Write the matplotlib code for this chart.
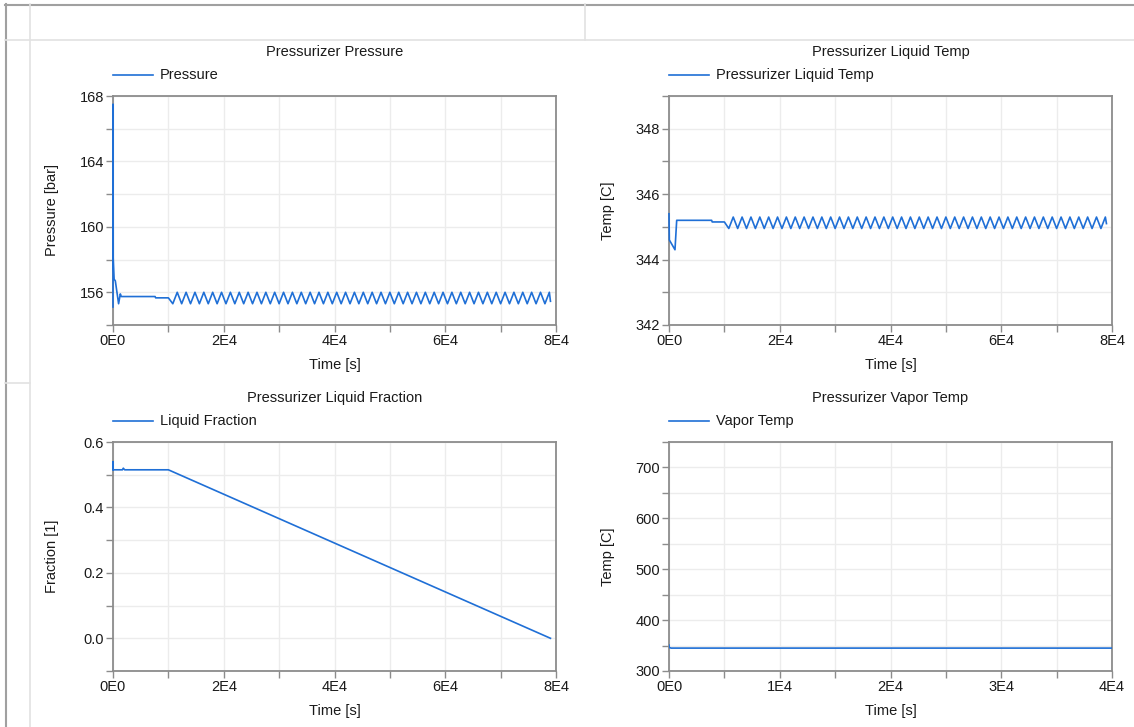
import matplotlib
matplotlib.use('Agg')
import matplotlib.pyplot as plt
from matplotlib.lines import Line2D
from matplotlib.ticker import MultipleLocator, FuncFormatter
import math

W, H = 1134, 727
plt.rcParams['font.family'] = ['Liberation Sans', 'DejaVu Sans']

# ---------------- data ----------------
# initial transients
p_t0 = [0, 10, 40, 200, 420, 1010, 1320, 1500, 7600, 7700]
p_v0 = [155.1, 167.5, 158.1, 156.8, 156.7, 155.3, 155.9, 155.74, 155.74, 155.66]

tl_t0 = [0, 60, 1080, 1390, 7700, 7800]
tl_v0 = [345.4, 344.6, 344.3, 345.2, 345.2, 345.15]

# oscillation phase (shared time points)
osc_t = [10000, 10800, 11600, 12400, 13200, 14000, 14800, 15600, 16400, 17200,
         18000, 18800, 19600, 20400, 21200, 22000, 22800, 23600, 24400, 25200,
         26000, 26800, 27600, 28400, 29200, 30000, 30800, 31600, 32400, 33200,
         34000, 34800, 35600, 36400, 37200, 38000, 38800, 39600, 40400, 41200,
         42000, 42800, 43600, 44400, 45200, 46000, 46800, 47600, 48400, 49200,
         50000, 50800, 51600, 52400, 53200, 54000, 54800, 55600, 56400, 57200,
         58000, 58800, 59600, 60400, 61200, 62000, 62800, 63600, 64400, 65200,
         66000, 66800, 67600, 68400, 69200, 70000, 70800, 71600, 72400, 73200,
         74000, 74800, 75600, 76400, 77200, 78000, 78800, 79000]

osc_p = [155.66, 155.3, 156.0, 155.3, 156.0, 155.3, 156.0, 155.3, 156.0, 155.3,
         156.0, 155.3, 156.0, 155.3, 156.0, 155.3, 156.0, 155.3, 156.0, 155.3,
         156.0, 155.3, 156.0, 155.3, 156.0, 155.3, 156.0, 155.3, 156.0, 155.3,
         156.0, 155.3, 156.0, 155.3, 156.0, 155.3, 156.0, 155.3, 156.0, 155.3,
         156.0, 155.3, 156.0, 155.3, 156.0, 155.3, 156.0, 155.3, 156.0, 155.3,
         156.0, 155.3, 156.0, 155.3, 156.0, 155.3, 156.0, 155.3, 156.0, 155.3,
         156.0, 155.3, 156.0, 155.3, 156.0, 155.3, 156.0, 155.3, 156.0, 155.3,
         156.0, 155.3, 156.0, 155.3, 156.0, 155.3, 156.0, 155.3, 156.0, 155.3,
         156.0, 155.3, 156.0, 155.3, 156.0, 155.3, 156.0, 155.45]

osc_tl = [345.15, 344.95, 345.3, 344.95, 345.3, 344.95, 345.3, 344.95, 345.3, 344.95,
          345.3, 344.95, 345.3, 344.95, 345.3, 344.95, 345.3, 344.95, 345.3, 344.95,
          345.3, 344.95, 345.3, 344.95, 345.3, 344.95, 345.3, 344.95, 345.3, 344.95,
          345.3, 344.95, 345.3, 344.95, 345.3, 344.95, 345.3, 344.95, 345.3, 344.95,
          345.3, 344.95, 345.3, 344.95, 345.3, 344.95, 345.3, 344.95, 345.3, 344.95,
          345.3, 344.95, 345.3, 344.95, 345.3, 344.95, 345.3, 344.95, 345.3, 344.95,
          345.3, 344.95, 345.3, 344.95, 345.3, 344.95, 345.3, 344.95, 345.3, 344.95,
          345.3, 344.95, 345.3, 344.95, 345.3, 344.95, 345.3, 344.95, 345.3, 344.95,
          345.3, 344.95, 345.3, 344.95, 345.3, 344.95, 345.3, 345.1]

frac_t = [0, 1, 30, 1700, 1860, 2100, 10000, 79000]
frac_v = [0.515, 0.54, 0.515, 0.515, 0.52, 0.515, 0.515, 0.0]

vap_t = [0, 30, 200, 79000]
vap_v = [351.0, 346.0, 345.0, 345.0]

titles = ["Pressurizer Pressure", "Pressurizer Liquid Temp",
          "Pressurizer Liquid Fraction", "Pressurizer Vapor Temp"]
legends = ["Pressure", "Pressurizer Liquid Temp", "Liquid Fraction", "Vapor Temp"]
ylabels = ["Pressure [bar]", "Temp [C]", "Fraction [1]", "Temp [C]"]

# --------------- figure ----------------
fig = plt.figure(figsize=(W / 100, H / 100), dpi=100)
fig.patch.set_facecolor('white')

def fx(x):
    return x / W

def fy(y):
    return 1 - y / H

def hline(y, x0, x1, c, lw):
    fig.add_artist(Line2D([fx(x0), fx(x1)], [fy(y), fy(y)], transform=fig.transFigure,
                          color=c, lw=lw))

def vline(x, y0, y1, c, lw):
    fig.add_artist(Line2D([fx(x), fx(x)], [fy(y0), fy(y1)], transform=fig.transFigure,
                          color=c, lw=lw))

# window chrome
hline(4.5, 5, W, '#a0a0a0', 1.5)
vline(5.5, 4, H, '#a0a0a0', 1.5)
hline(40, 5, W, '#e2e2e2', 1.2)
vline(30, 4, H, '#e2e2e2', 1.2)
vline(585, 4, 40, '#e2e2e2', 1.2)
hline(383, 5, 30, '#e2e2e2', 1.2)

LINE_C = '#1f6fd6'
SPINE_C = '#8c8c8c'
TXT_C = '#1a1a1a'
FS = 10.5

def sci(v, pos=None):
    if abs(v) < 1e-9:
        return '0E0'
    e = int(math.floor(math.log10(abs(v)) + 1e-9))
    m = v / 10 ** e
    return f"{m:g}E{e}"

def make_axes(l, t, r, b):
    ax = fig.add_axes([fx(l), fy(b), (r - l) / W, (b - t) / H])
    for s in ax.spines.values():
        s.set_color(SPINE_C)
        s.set_linewidth(1.3)
    ax.tick_params(which='both', direction='out', color=SPINE_C, width=1,
                   labelcolor=TXT_C, labelsize=FS, top=False, right=False)
    ax.tick_params(which='major', length=5, pad=1.5)
    ax.tick_params(which='minor', length=5)
    ax.grid(which='both', color='#ececec', lw=1)
    ax.set_axisbelow(True)
    ax.xaxis.set_major_formatter(FuncFormatter(sci))
    return ax

boxes = [(113, 96, 556, 325), (669, 96, 1112, 325),
         (113, 442, 556, 671), (669, 442, 1112, 671)]
title_y = [52, 52, 398, 398]
leg_y = [75, 75, 421, 421]
xl_y = [365, 365, 711, 711]
yl_x = [52, 608, 52, 608]

axes = [make_axes(*b) for b in boxes]

# Pressure
a = axes[0]
a.plot(p_t0 + osc_t, p_v0 + osc_p, color=LINE_C, lw=1.2, zorder=3, clip_on=False)
a.set_xlim(0, 80000)
a.set_ylim(154, 168)
a.xaxis.set_major_locator(MultipleLocator(20000))
a.xaxis.set_minor_locator(MultipleLocator(10000))
a.yaxis.set_major_locator(MultipleLocator(4))
a.yaxis.set_minor_locator(MultipleLocator(2))
a.yaxis.set_major_formatter(FuncFormatter(lambda v, p: f"{v:.0f}"))

# Liquid temp
a = axes[1]
a.plot(tl_t0 + osc_t, tl_v0 + osc_tl, color=LINE_C, lw=1.2, zorder=3, clip_on=False)
a.set_xlim(0, 80000)
a.set_ylim(342, 349)
a.xaxis.set_major_locator(MultipleLocator(20000))
a.xaxis.set_minor_locator(MultipleLocator(10000))
a.yaxis.set_major_locator(MultipleLocator(2))
a.yaxis.set_minor_locator(MultipleLocator(1))
a.yaxis.set_major_formatter(FuncFormatter(lambda v, p: f"{v:.0f}"))

# Liquid fraction
a = axes[2]
a.plot(frac_t, frac_v, color=LINE_C, lw=1.2, zorder=3, clip_on=False)
a.set_xlim(0, 80000)
a.set_ylim(-0.1, 0.6)
a.xaxis.set_major_locator(MultipleLocator(20000))
a.xaxis.set_minor_locator(MultipleLocator(10000))
a.yaxis.set_major_locator(MultipleLocator(0.2))
a.yaxis.set_minor_locator(MultipleLocator(0.1))
a.yaxis.set_major_formatter(FuncFormatter(lambda v, p: f"{v:.1f}"))

# Vapor temp
a = axes[3]
a.plot(vap_t, vap_v, color=LINE_C, lw=1.2, zorder=3)
a.set_xlim(0, 40000)
a.set_ylim(300, 750)
a.xaxis.set_major_locator(MultipleLocator(10000))
a.xaxis.set_minor_locator(MultipleLocator(5000))
a.yaxis.set_major_locator(MultipleLocator(100))
a.yaxis.set_minor_locator(MultipleLocator(50))
a.yaxis.set_major_formatter(FuncFormatter(lambda v, p: f"{v:.0f}"))

for i, (l, t, r, b) in enumerate(boxes):
    cx = (l + r) / 2
    fig.text(fx(cx), fy(title_y[i]), titles[i], ha='center', va='center',
             fontsize=FS, color=TXT_C)
    fig.add_artist(Line2D([fx(l), fx(l + 40)], [fy(leg_y[i]), fy(leg_y[i])],
                          transform=fig.transFigure, color=LINE_C, lw=1.2))
    fig.text(fx(l + 47), fy(leg_y[i]), legends[i], ha='left', va='center',
             fontsize=FS, color=TXT_C)
    fig.text(fx(cx), fy(xl_y[i]), "Time [s]", ha='center', va='center',
             fontsize=FS, color=TXT_C)
    fig.text(fx(yl_x[i]), fy((t + b) / 2), ylabels[i], ha='center', va='center',
             rotation=90, fontsize=FS, color=TXT_C)

fig.savefig('out.png', dpi=100, facecolor='white')
